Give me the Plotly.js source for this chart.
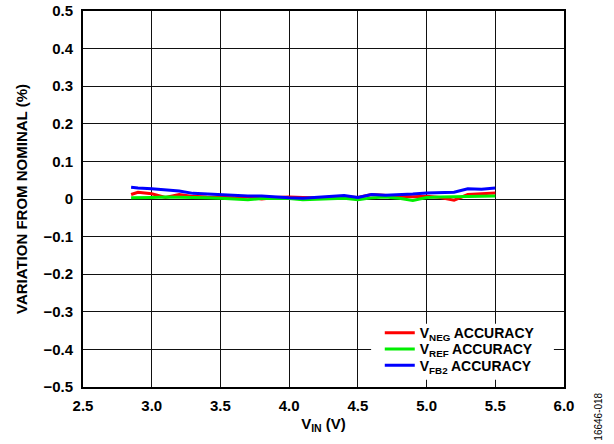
<!DOCTYPE html>
<html>
<head>
<meta charset="utf-8">
<script src="https://cdn.plot.ly/plotly-3.0.1.min.js"></script>
<style>html,body{margin:0;padding:0;background:#fff;}#chart{width:614px;height:444px;}</style>
</head>
<body>
<div id="chart"></div>
<script>
const vin = [2.85, 2.9, 3.0, 3.1, 3.2, 3.3, 3.4, 3.5, 3.6, 3.7, 3.8, 3.9, 4.0, 4.1, 4.2, 4.3, 4.4, 4.5, 4.6, 4.7, 4.8, 4.9, 5.0, 5.1, 5.2, 5.3, 5.4, 5.5];
const vnegAccuracy = [0.012, 0.018, 0.014, 0.004, 0.012, 0.007, 0.005, 0.004, 0.003, 0.006, 0.000, 0.004, 0.005, 0.004, 0.003, 0.002, 0.006, 0.004, 0.012, 0.009, 0.007, 0.006, 0.007, 0.004, -0.003, 0.012, 0.013, 0.016];
const vrefAccuracy = [0.003, 0.004, 0.004, 0.005, 0.005, 0.004, 0.003, 0.002, 0.000, -0.002, 0.001, 0.002, 0.001, -0.002, 0.000, 0.000, 0.002, -0.002, 0.003, 0.005, 0.002, -0.004, 0.004, 0.005, 0.006, 0.006, 0.007, 0.008];
const vfb2Accuracy = [0.031, 0.029, 0.027, 0.023, 0.021, 0.015, 0.013, 0.011, 0.010, 0.008, 0.008, 0.005, 0.003, 0.002, 0.004, 0.007, 0.009, 0.004, 0.012, 0.010, 0.011, 0.013, 0.016, 0.016, 0.018, 0.027, 0.026, 0.029];
const seriesNames = ['V<sub>NEG</sub> ACCURACY', 'V<sub>REF</sub> ACCURACY', 'V<sub>FB2</sub> ACCURACY'];
const xTicks = [2.5, 3.0, 3.5, 4.0, 4.5, 5.0, 5.5, 6.0];
const yTicks = [-0.5, -0.4, -0.3, -0.2, -0.1, 0, 0.1, 0.2, 0.3, 0.4, 0.5];

const fam = 'Liberation Sans, Arial, sans-serif';
const bold = (s) => ({family: fam, size: s, color: '#000', weight: 'bold'});
const traces = [
  {x: vin, y: vnegAccuracy, name: seriesNames[0], mode: 'lines', line: {color: '#ff0000', width: 3}, legend: 'legend'},
  {x: vin, y: vrefAccuracy, name: seriesNames[1], mode: 'lines', line: {color: '#00ee00', width: 3}, legend: 'legend2'},
  {x: vin, y: vfb2Accuracy, name: seriesNames[2], mode: 'lines', line: {color: '#0000ff', width: 3}, legend: 'legend3'}
];
const legendBase = (y) => ({
  x: 0.617, y: y, xanchor: 'left', yanchor: 'middle',
  bgcolor: 'rgba(0,0,0,0)', borderwidth: 0, font: bold(14)
});
const layout = {
  width: 614, height: 444,
  margin: {l: 83, r: 50, t: 11, b: 57},
  paper_bgcolor: '#fff', plot_bgcolor: '#fff',
  font: {family: fam, size: 12, color: '#000'},
  showlegend: true,
  legend: legendBase(0.143),
  legend2: legendBase(0.100),
  legend3: legendBase(0.057),
  shapes: [{
    type: 'rect', xref: 'paper', yref: 'paper', layer: 'above',
    x0: 0.599, x1: 0.979, y0: 0.019, y1: 0.168,
    fillcolor: '#fff', line: {width: 0}
  }],
  xaxis: {
    range: [2.5, 6.0], tickvals: xTicks, tickformat: '.1f',
    showgrid: true, gridcolor: '#111', gridwidth: 1,
    zeroline: false, showline: true, linecolor: '#000', linewidth: 2, mirror: true,
    ticks: '', tickfont: bold(15), ticklabelstandoff: 4,
    title: {text: 'V<sub>IN</sub> (V)', font: bold(15), standoff: 5}
  },
  yaxis: {
    range: [-0.5, 0.5], tickvals: yTicks,
    showgrid: true, gridcolor: '#111', gridwidth: 1,
    zeroline: false, showline: true, linecolor: '#000', linewidth: 2, mirror: true,
    ticks: '', tickfont: bold(15), ticklabelstandoff: 5,
    title: {text: 'VARIATION FROM NOMINAL (%)', font: bold(15), standoff: 12}
  },
  annotations: [{
    text: '16646-018', xref: 'paper', yref: 'paper', x: 1.07, y: 0.0,
    xanchor: 'center', yanchor: 'middle', textangle: -90, showarrow: false,
    font: {family: fam, size: 10, color: '#000'}, xshift: 0, yshift: -30
  }]
};
Plotly.newPlot('chart', traces, layout, {displayModeBar: false, staticPlot: true});
</script>
</body>
</html>
